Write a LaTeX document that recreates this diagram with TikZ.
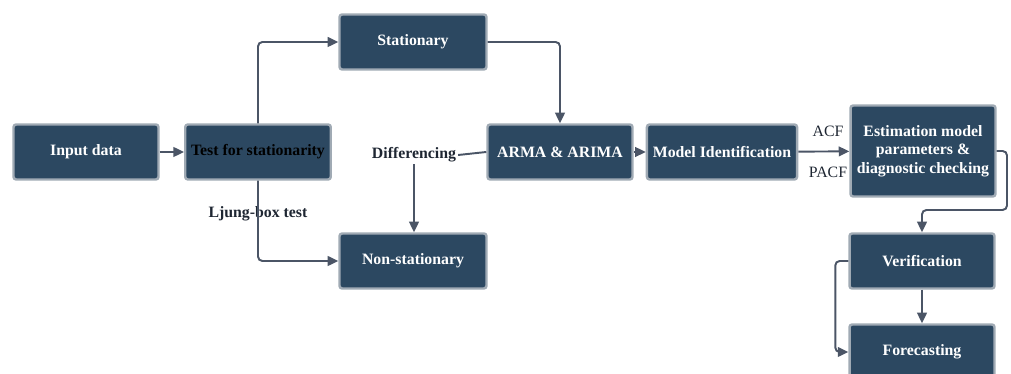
\documentclass[tikz,border=0pt]{standalone}
\usepackage{fontspec}
\setmainfont{Liberation Serif}
\usetikzlibrary{arrows.meta}
\definecolor{boxfill}{RGB}{44,72,97}
\definecolor{boxrim}{RGB}{160,170,180}
\definecolor{linecol}{RGB}{75,85,102}
\definecolor{labelcol}{RGB}{30,38,50}
\tikzset{
  procbox/.style={draw=boxrim, line width=1.4pt, fill=boxfill, rounded corners=1.5pt,
    minimum width=2.9cm, minimum height=1.1cm, text=white, align=center,
    font=\fontsize{9}{10.5}\selectfont\bfseries},
  flowline/.style={draw=linecol, line width=1.1pt, rounded corners=2.5pt,
    -{Triangle[length=6pt,width=5.5pt]}},
  plainline/.style={draw=linecol, line width=1.1pt, rounded corners=2.5pt},
  flowlabel/.style={text=labelcol, font=\fontsize{9}{10.5}\selectfont\bfseries, inner sep=1pt}
}
\begin{document}
\begin{tikzpicture}[x=0.02cm,y=-0.02cm]
\useasboundingbox (0,0) rectangle (1011,374);

% Boxes
\node [procbox] (input) at (86,152) {Input data};
\node [procbox, text=black] (test) at (258,152) {Test for stationarity};
\node [procbox, minimum width=2.94cm] (stat) at (413,42) {Stationary};
\node [procbox, minimum width=2.94cm] (nonstat) at (413,261) {Non-stationary};
\node [procbox] (arma) at (560,152) {ARMA \& ARIMA};
\node [procbox] (modelid) at (722,152) {Model Identification};
\node [procbox, minimum height=1.82cm] (estim) at (923,151) {Estimation model\\parameters \&\\diagnostic checking};
\node [procbox] (verif) at (922,261) {Verification};
\node [procbox] (forecast) at (922,352) {Forecasting};

% Labels
\node [flowlabel, fill=white] (ljung) at (258,214) {Ljung-box test};
\node [flowlabel] (diff) at (414,155) {Differencing};
\node [flowlabel, font=\fontsize{9}{10.5}\selectfont] (acf) at (828,131) {ACF};
\node [flowlabel, font=\fontsize{9}{10.5}\selectfont] (pacf) at (828,172) {PACF};

% Connectors
\draw [flowline] (input) -- (test);
\draw [flowline] (test.north) |- (stat.west);
\draw [flowline] (test.south) |- (nonstat.west);
\draw [flowline] (stat.east) -| (arma.north);
\draw [plainline] (arma.west) -- (diff.east);
\draw [flowline] (diff.south) -- (diff.south |- nonstat.north);
\draw [flowline] (arma) -- (modelid);
\draw [flowline] (modelid) -- (estim);

% Return loops on the right
\coordinate (turn) at (1007,210);
\draw [flowline] (estim.east) -| (turn) -| (verif.north);
\draw [flowline] (verif) -- (forecast);
\draw [flowline] (verif.west) -- ++(-13,0) |- (forecast.west);

\end{tikzpicture}
\end{document}
